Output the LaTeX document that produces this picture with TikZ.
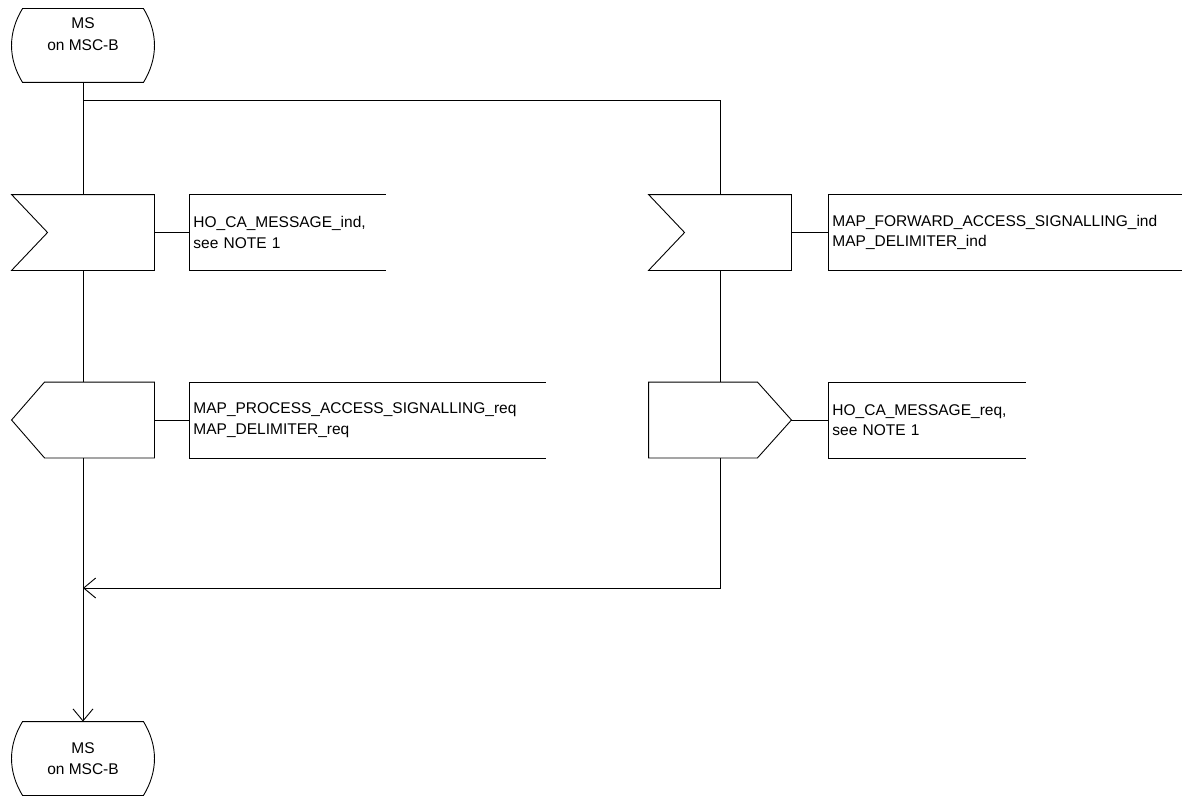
\documentclass[tikz,border=0pt]{standalone}
\usepackage{fontspec}
\setmainfont{Liberation Sans}
\usetikzlibrary{arrows.meta,calc}
\newcommand\stateoutline[1]{%
  \draw ([xshift=11pt]#1.north west) -- ([xshift=-11pt]#1.north east)
    .. controls ([xshift=3.7pt,yshift=-24pt]#1.north east) and ([xshift=3.7pt,yshift=24pt]#1.south east) .. ([xshift=-11pt]#1.south east)
    -- ([xshift=11pt]#1.south west)
    .. controls ([xshift=-3.7pt,yshift=24pt]#1.south west) and ([xshift=-3.7pt,yshift=-24pt]#1.north west) .. cycle;}
\begin{document}
\begin{tikzpicture}[x=1pt,y=-1pt, line width=0.9pt,
  every node/.style={font=\fontsize{15.5}{20.5}\selectfont, inner sep=0pt},
  sym/.style={minimum width=142pt, minimum height=75pt, draw=none},
  statebox/.style={minimum width=142pt, minimum height=73pt, draw=none},
  tbox/.style={minimum height=75pt, text width=#1, align=left, inner xsep=4pt, inner ysep=0pt, anchor=west},
  arr/.style={-{Straight Barb[length=12pt,width=20pt]}},
  stext/.style={align=center, font=\fontsize{15.5}{21.5}\selectfont}
]
\useasboundingbox (0,0) rectangle (1183,797);

% states
\node[statebox] (s1) at (83,45.5) {};
\stateoutline{s1}
\node[stext] (s1t) at ($(s1.center)+(0,-11.5)$) {MS\\on MSC-B};

\node[statebox] (s2) at (83,758.5) {};
\stateoutline{s2}
\node[stext] (s2t) at (s2.center) {MS\\on MSC-B};

% left column
\node[sym] (in1) at (83,232.5) {};
\draw (in1.north west) -- (in1.north east) -- (in1.south east) -- (in1.south west) -- ([xshift=36pt]in1.west) -- cycle;
\node[tbox=188pt] (t1) at (189,232.5) {HO\_CA\_MESSAGE\_ind,\\see NOTE 1};
\draw (t1.north east) -- (t1.north west) -- (t1.south west) -- (t1.south east);

\node[sym] (out1) at (83,420) {};
\draw ([xshift=33pt]out1.north west) -- (out1.north east) -- (out1.south east) -- ([xshift=33pt]out1.south west) -- (out1.west) -- cycle;
\node[tbox=348pt] (t3) at (189,420) {MAP\_PROCESS\_ACCESS\_SIGNALLING\_req\\MAP\_DELIMITER\_req};
\draw (t3.north east) -- (t3.north west) -- (t3.south west) -- (t3.south east);

% right column
\node[sym] (in2) at (720,232.5) {};
\draw (in2.north west) -- (in2.north east) -- (in2.south east) -- (in2.south west) -- ([xshift=36pt]in2.west) -- cycle;
\node[tbox=345pt] (t2) at (828,232.5) {MAP\_FORWARD\_ACCESS\_SIGNALLING\_ind\\MAP\_DELIMITER\_ind};
\draw (t2.north east) -- (t2.north west) -- (t2.south west) -- (t2.south east);

\node[sym] (out2) at (720,420) {};
\draw (out2.north west) -- ([xshift=-34pt]out2.north east) -- (out2.east) -- ([xshift=-34pt]out2.south east) -- (out2.south west) -- cycle;
\node[tbox=189pt] (t4) at (828,420) {HO\_CA\_MESSAGE\_req,\\see NOTE 1};
\draw (t4.north east) -- (t4.north west) -- (t4.south west) -- (t4.south east);

% connectors
\coordinate (j1) at (83,100);
\coordinate (j2) at (83,588);
\draw (s1.south) -- (in1.north);
\draw (s1.south) -- (j1) -| (in2.north);
\draw (in1.east) -- (t1.west);
\draw (in1.south) -- (out1.north);
\draw (out1.east) -- (t3.west);
\draw (in2.east) -- (t2.west);
\draw (in2.south) -- (out2.north);
\draw (out2.east) -- (t4.west);
\draw[arr] (out2.south) |- (j2);
\draw[arr] (out1.south) -- (s2.north);
\end{tikzpicture}
\end{document}
